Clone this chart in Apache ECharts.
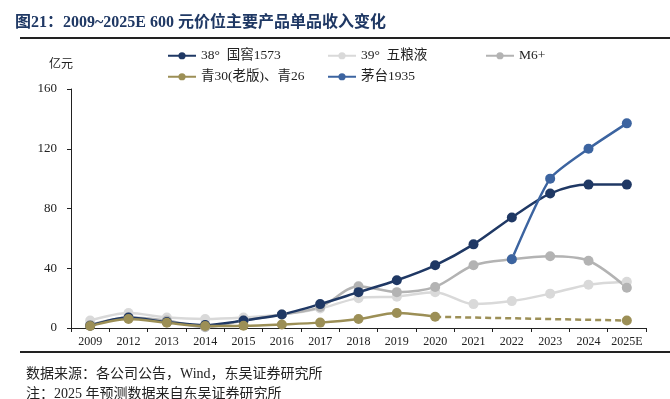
<!DOCTYPE html>
<html>
<head>
<meta charset="utf-8">
<script src="https://cdn.jsdelivr.net/npm/echarts@6/dist/echarts.min.js"></script>
<style>
html, body { margin: 0; padding: 0; background: #fff; }
#main { width: 670px; height: 399px; }
</style>
</head>
<body>
<div id="main"></div>
<script>
// 年份
var years = ['2009', '2012', '2013', '2014', '2015', '2016', '2017', '2018', '2019', '2020', '2021', '2022', '2023', '2024', '2025E'];
// 各产品收入（亿元）
var guojiao1573 = [1.5, 7, 4, 2, 5, 9, 16, 24, 32, 42, 56, 74, 90, 96, 96];
var wuliangye39 = [5, 10, 7, 6, 7, 9, 13, 20, 21, 24, 16, 18, 23, 29, 31];
var m6plus = [2, 7, 5, 0.5, 5, 9, 14, 28, 24, 27.5, 42, 46, 48, 45, 27];
var qing30 = [1.3, 6, 3.5, 1.3, 1.5, 2.4, 3.6, 6, 10, 7.5, null, null, null, null, null];
var qing30Est = [null, null, null, null, null, null, null, null, null, 7.5, null, null, null, null, 5];
var maotai1935 = [null, null, null, null, null, null, null, null, null, null, null, 46, 100, 120, 137];
var yTicks = [0, 40, 80, 120, 160];

var serif = '"Liberation Serif", "Noto Sans CJK SC", serif';

function line(name, data, color, extra) {
	var s = {
		name: name,
		type: 'line',
		data: data,
		smooth: 0.3,
		symbol: 'circle',
		symbolSize: 10,
		showAllSymbol: true,
		itemStyle: { color: color },
		lineStyle: { color: color, width: 2.5 },
		emphasis: { disabled: true }
	};
	for (var k in extra) s[k] = extra[k];
	return s;
}

function legendAt(name, left, top) {
	return {
		data: [name],
		left: left,
		top: top,
		itemWidth: 28,
		itemHeight: 9,
		itemGap: 10,
		selectedMode: false,
		textStyle: { fontFamily: serif, fontSize: 13.5, color: '#222' }
	};
}

var myChart = echarts.init(document.getElementById('main'));

// 预测段：2020 点不画标记
var estData = qing30Est.map(function (v, i) {
	if (i == 9) return { value: v, symbol: 'none' };
	return v;
});

myChart.setOption({
	animation: false,
	title: [{
		text: '图21：2009~2025E 600 元价位主要产品单品收入变化',
		left: 10,
		top: 10,
		textStyle: { fontFamily: serif, fontSize: 16, fontWeight: 'bold', color: '#1f3864' }
	}, {
		text: '数据来源：各公司公告，Wind，东吴证券研究所',
		left: 21,
		top: 362,
		textStyle: { fontFamily: serif, fontSize: 14, fontWeight: 'normal', color: '#222' }
	}, {
		text: '注：2025 年预测数据来自东吴证券研究所',
		left: 21,
		top: 382,
		textStyle: { fontFamily: serif, fontSize: 14, fontWeight: 'normal', color: '#222' }
	}, {
		text: '亿元',
		left: 44,
		top: 54,
		textStyle: { fontFamily: serif, fontSize: 12, fontWeight: 'normal', color: '#222' }
	}],
	graphic: [{
		type: 'line',
		shape: { x1: 20, y1: 38, x2: 670, y2: 38 },
		style: { stroke: '#222', lineWidth: 2 }
	}, {
		type: 'line',
		shape: { x1: 20, y1: 352, x2: 670, y2: 352 },
		style: { stroke: '#222', lineWidth: 2 }
	}],
	legend: [
		legendAt('38°  国窖1573', 162, 44),
		legendAt('39°  五粮液', 322, 44),
		legendAt('M6+', 480, 44),
		legendAt('青30(老版)、青26', 162, 65),
		legendAt('茅台1935', 322, 65)
	],
	grid: { left: 71, right: 24, top: 89, bottom: 71 },
	xAxis: {
		type: 'category',
		data: years,
		boundaryGap: true,
		axisLine: { lineStyle: { color: '#222', width: 1 } },
		axisTick: { show: true, inside: false, length: 4, alignWithLabel: false, lineStyle: { color: '#222' } },
		axisLabel: { fontFamily: serif, fontSize: 12, color: '#222', margin: 8, interval: 0 }
	},
	yAxis: {
		type: 'value',
		min: yTicks[0],
		max: yTicks[yTicks.length - 1],
		interval: 40,
		axisLine: { show: true, lineStyle: { color: '#222', width: 1 } },
		axisTick: { show: true, inside: false, length: 4, lineStyle: { color: '#222' } },
		axisLabel: { fontFamily: serif, fontSize: 13, color: '#222', margin: 14 },
		splitLine: { show: false }
	},
	series: [
		line('39°  五粮液', wuliangye39, '#d9d9d9'),
		line('M6+', m6plus, '#b3b3b3'),
		line('38°  国窖1573', guojiao1573, '#1f3864'),
		line('茅台1935', maotai1935, '#3c64a0', { smooth: 0.2 }),
		line('青30(老版)、青26', qing30, '#9c8f56'),
		line('青30(老版)、青26', estData, '#9c8f56', {
			smooth: false,
			connectNulls: true,
			lineStyle: { color: '#9c8f56', width: 2.5, type: [6, 4] }
		})
	]
});
</script>
</body>
</html>
